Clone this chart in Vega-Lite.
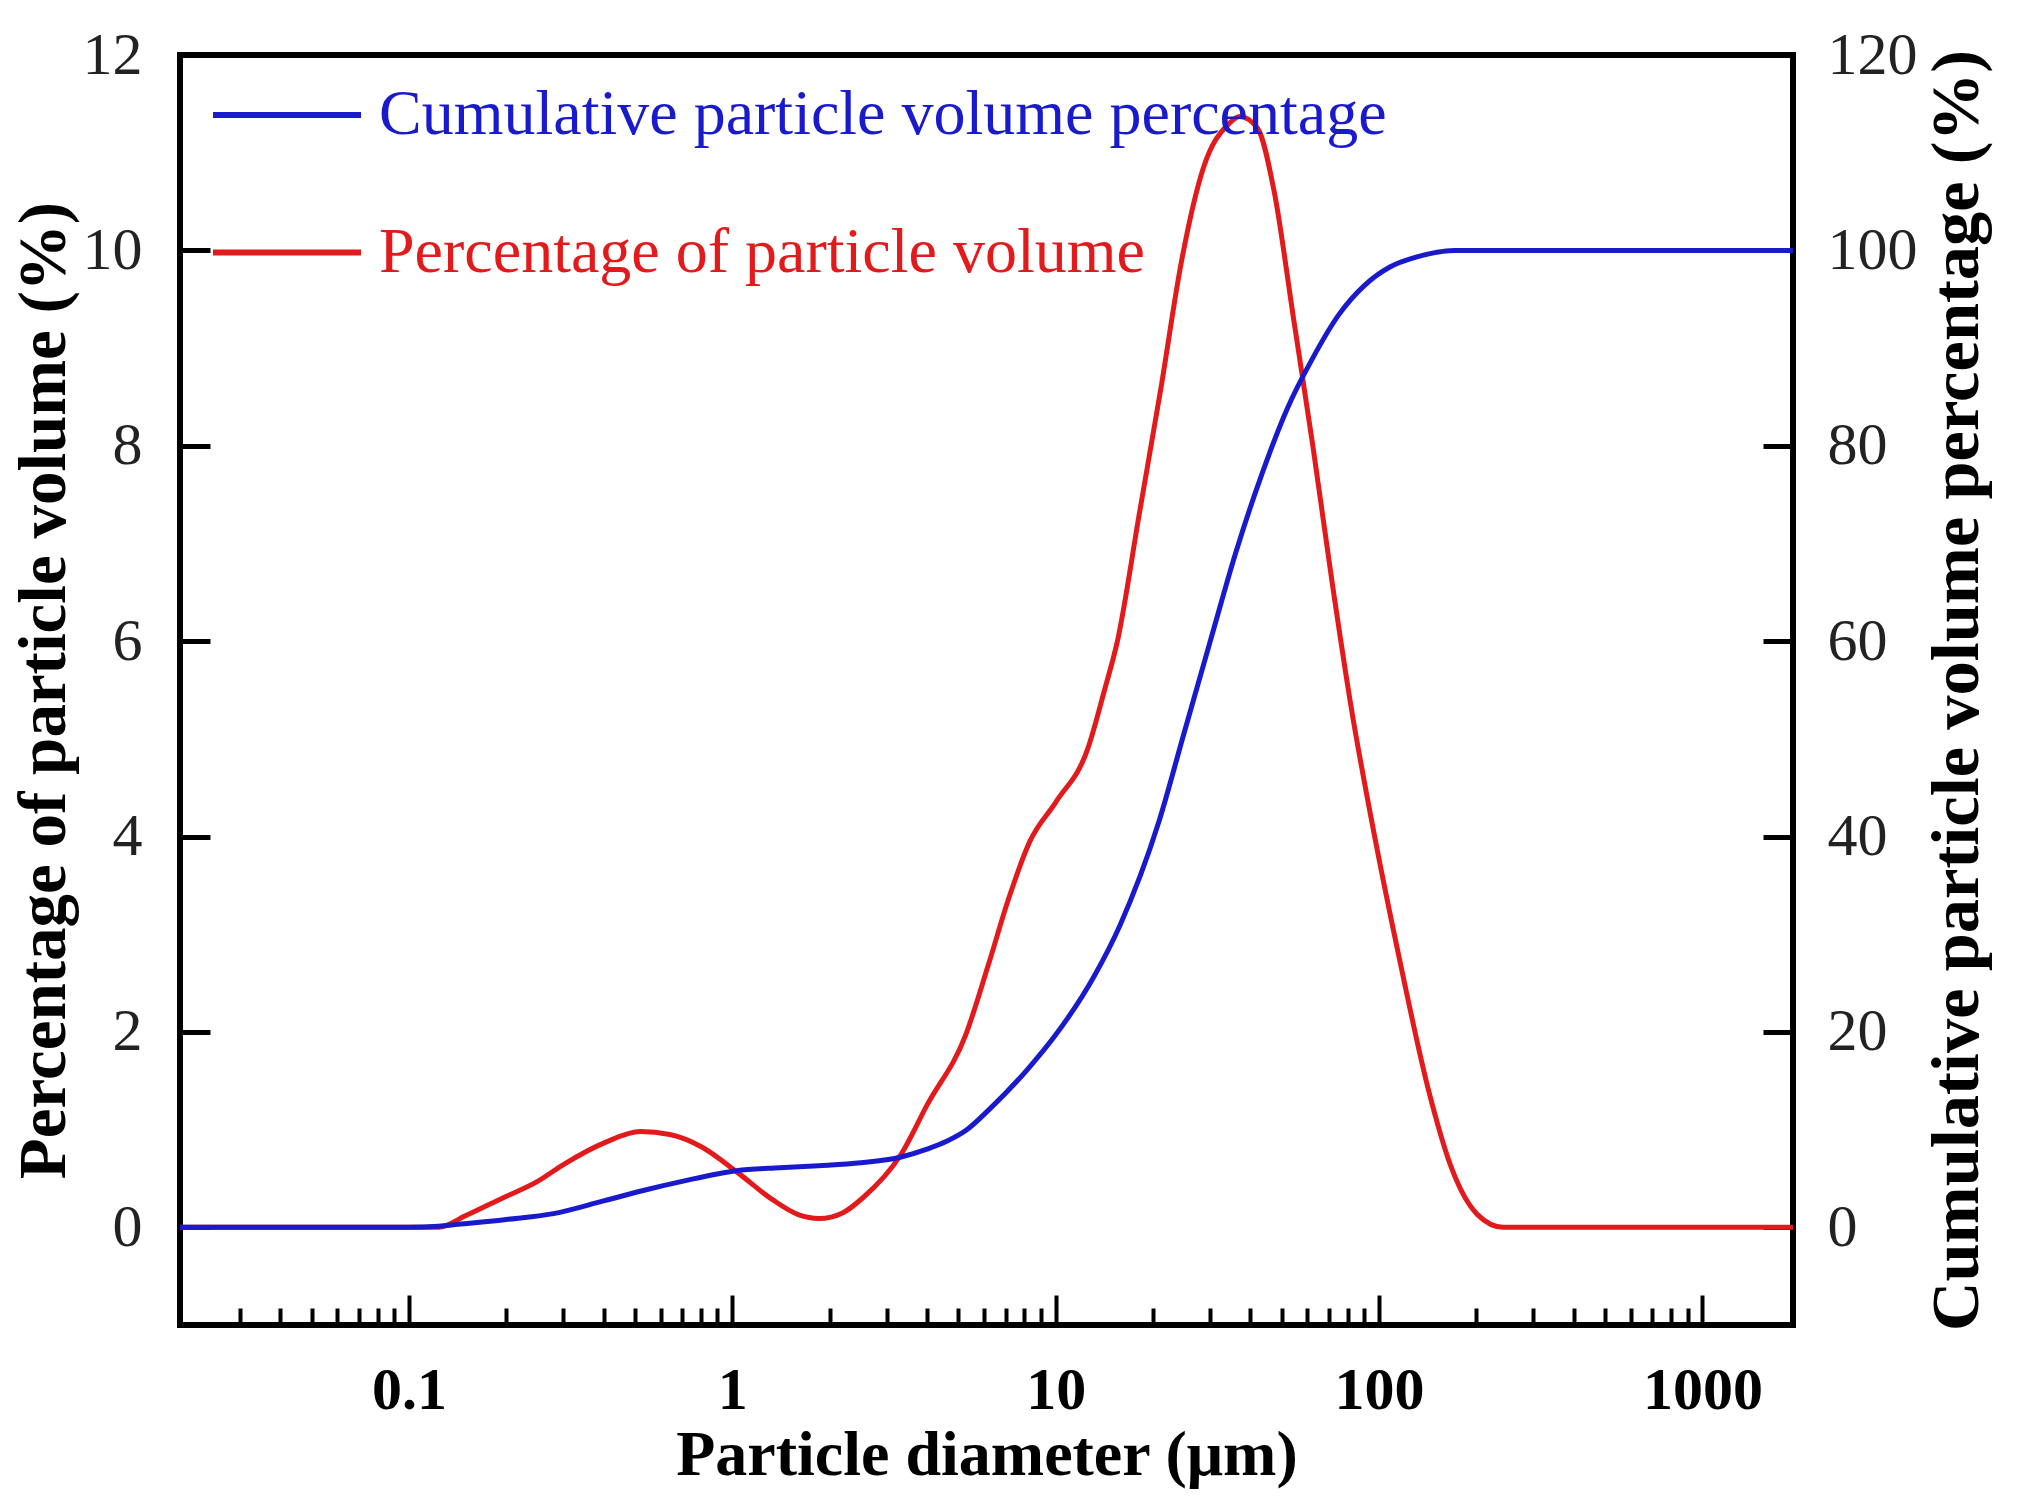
{
  "$schema": "https://vega.github.io/schema/vega-lite/v6.json",
  "width": 1613,
  "height": 1270,
  "autosize": "none",
  "padding": {"left": 180, "top": 55, "right": 224, "bottom": 187},
  "background": "white",
  "config": {
    "view": {"stroke": "black", "strokeWidth": 6},
    "font": "Liberation Serif",
    "axis": {"grid": false, "domain": false, "zindex": 1, "labelFont": "Liberation Serif", "titleFont": "Liberation Serif"}
  },
  "datasets": {
    "pct": [
      {"d": 0.0196, "v": 0}, {"d": 0.05, "v": 0}, {"d": 0.1, "v": 0}, {"d": 0.1235, "v": 0},
      {"d": 0.15, "v": 0.12}, {"d": 0.195, "v": 0.3}, {"d": 0.25, "v": 0.47}, {"d": 0.303, "v": 0.65},
      {"d": 0.405, "v": 0.87}, {"d": 0.52, "v": 0.98}, {"d": 0.641, "v": 0.95}, {"d": 0.807, "v": 0.82},
      {"d": 1.03, "v": 0.57}, {"d": 1.335, "v": 0.28}, {"d": 1.6, "v": 0.13}, {"d": 1.855, "v": 0.09},
      {"d": 2.2, "v": 0.15}, {"d": 2.53, "v": 0.3}, {"d": 3.33, "v": 0.75}, {"d": 4.0, "v": 1.25},
      {"d": 5.27, "v": 1.97}, {"d": 6.21, "v": 2.7}, {"d": 7.13, "v": 3.35}, {"d": 8.32, "v": 3.95},
      {"d": 10, "v": 4.35}, {"d": 12.57, "v": 4.9}, {"d": 14.16, "v": 5.5}, {"d": 15.52, "v": 6.0},
      {"d": 18.13, "v": 7.3}, {"d": 21.18, "v": 8.6}, {"d": 24.53, "v": 9.9}, {"d": 28.66, "v": 10.85},
      {"d": 34.4, "v": 11.3}, {"d": 37.05, "v": 11.37}, {"d": 42.1, "v": 11.25}, {"d": 47.4, "v": 10.6},
      {"d": 54.4, "v": 9.3}, {"d": 62.4, "v": 8.0}, {"d": 71.6, "v": 6.6}, {"d": 82.2, "v": 5.3},
      {"d": 96.9, "v": 4.0}, {"d": 116.4, "v": 2.7}, {"d": 142.3, "v": 1.4}, {"d": 167.8, "v": 0.6},
      {"d": 201.5, "v": 0.13}, {"d": 242, "v": 0}, {"d": 500, "v": 0}, {"d": 1905, "v": 0}
    ],
    "cum": [
      {"d": 0.0196, "v": 0}, {"d": 0.1, "v": 0}, {"d": 0.1235, "v": 0.1}, {"d": 0.1416, "v": 0.3},
      {"d": 0.2, "v": 0.8}, {"d": 0.28, "v": 1.4}, {"d": 0.4, "v": 2.7}, {"d": 0.55, "v": 3.9},
      {"d": 0.7, "v": 4.7}, {"d": 1.03, "v": 5.8}, {"d": 1.4, "v": 6.1}, {"d": 1.85, "v": 6.3},
      {"d": 2.5, "v": 6.6}, {"d": 3.33, "v": 7.2}, {"d": 4.0, "v": 8.0}, {"d": 4.6, "v": 8.8}, {"d": 5.27, "v": 9.9},
      {"d": 6.2, "v": 12.0}, {"d": 8.3, "v": 16.4}, {"d": 10, "v": 19.7}, {"d": 13.15, "v": 25.7},
      {"d": 15.8, "v": 30.9}, {"d": 20.8, "v": 41.4}, {"d": 25, "v": 50.7}, {"d": 30, "v": 59.9},
      {"d": 36, "v": 69}, {"d": 43.3, "v": 77}, {"d": 52, "v": 83.8}, {"d": 62.4, "v": 89},
      {"d": 75, "v": 93.4}, {"d": 90, "v": 96.4}, {"d": 108, "v": 98.3}, {"d": 130, "v": 99.3},
      {"d": 171, "v": 100}, {"d": 500, "v": 100}, {"d": 1905, "v": 100}
    ]
  },
  "encoding": {
    "x": {
      "field": "d", "type": "quantitative",
      "scale": {"type": "log", "domain": [0.0196, 1905]},
      "axis": {
        "title": "Particle diameter (μm)",
        "titleFontSize": 64, "titleFontWeight": "bold", "titleColor": "black", "titlePadding": -10,
        "values": [0.03, 0.04, 0.05, 0.06, 0.07, 0.08, 0.09, 0.1, 0.2, 0.3, 0.4, 0.5, 0.6, 0.7, 0.8, 0.9, 1, 2, 3, 4, 5, 6, 7, 8, 9, 10, 20, 30, 40, 50, 60, 70, 80, 90, 100, 200, 300, 400, 500, 600, 700, 800, 900, 1000],
        "tickSize": {"condition": {"test": "abs(log(datum.value)/LN10 - round(log(datum.value)/LN10)) < 0.001", "value": -30}, "value": -17},
        "tickWidth": 4, "tickColor": "black",
        "labelExpr": "abs(log(datum.value)/LN10 - round(log(datum.value)/LN10)) < 0.001 ? format(datum.value, '~g') : ''",
        "labelFontSize": 60, "labelFontWeight": "bold", "labelColor": "black",
        "labelPadding": 66, "labelOverlap": false, "labelFlush": false
      }
    }
  },
  "layer": [
    {
      "data": {"name": "pct"},
      "mark": {"type": "line", "strokeWidth": 5, "interpolate": "monotone"},
      "encoding": {
        "y": {
          "field": "v", "type": "quantitative",
          "scale": {"domain": [-1, 12], "nice": false, "zero": false},
          "axis": {
            "orient": "left",
            "title": "Percentage of particle volume (%)",
            "values": [0, 2, 4, 6, 8, 10, 12],
            "tickSize": -30, "tickWidth": 5, "tickColor": "black",
            "labelFontSize": 60, "labelColor": "#222222", "labelPadding": 68,
            "titleFontSize": 67, "titleFontWeight": "bold", "titleColor": "black", "titlePadding": 4
          }
        },
        "color": {
          "datum": "Percentage of particle volume",
          "type": "nominal",
          "scale": {"domain": ["Cumulative particle volume percentage", "Percentage of particle volume"], "range": ["#1a1acd", "#e31a1c"]},
          "legend": {
            "orient": "none", "legendX": 30, "legendY": 28, "title": null, "direction": "vertical",
            "symbolType": "stroke", "symbolSize": 21904, "symbolStrokeWidth": 6,
            "clipHeight": 64, "rowPadding": 73.5,
            "labelFont": "Liberation Serif", "labelFontSize": 64, "labelOffset": 15, "labelLimit": 0, "padding": 0,
            "encode": {"labels": {"update": {"fill": {"scale": "color", "field": "value"}}}}
          }
        }
      }
    },
    {
      "data": {"name": "cum"},
      "mark": {"type": "line", "strokeWidth": 5, "interpolate": "monotone"},
      "encoding": {
        "y": {
          "field": "v", "type": "quantitative",
          "scale": {"domain": [-10, 120], "nice": false, "zero": false},
          "axis": {
            "orient": "right",
            "title": "Cumulative particle volume percentage (%)",
            "values": [0, 20, 40, 60, 80, 100, 120],
            "tickSize": -30, "tickWidth": 5, "tickColor": "black",
            "labelFontSize": 60, "labelColor": "#222222", "labelPadding": 64,
            "titleFontSize": 68.5, "titleFontWeight": "bold", "titleColor": "black", "titlePadding": 6,
            "titleAngle": 270, "titleBaseline": "top"
          }
        },
        "color": {"datum": "Cumulative particle volume percentage", "type": "nominal"}
      }
    }
  ],
  "resolve": {"scale": {"y": "independent"}}
}
